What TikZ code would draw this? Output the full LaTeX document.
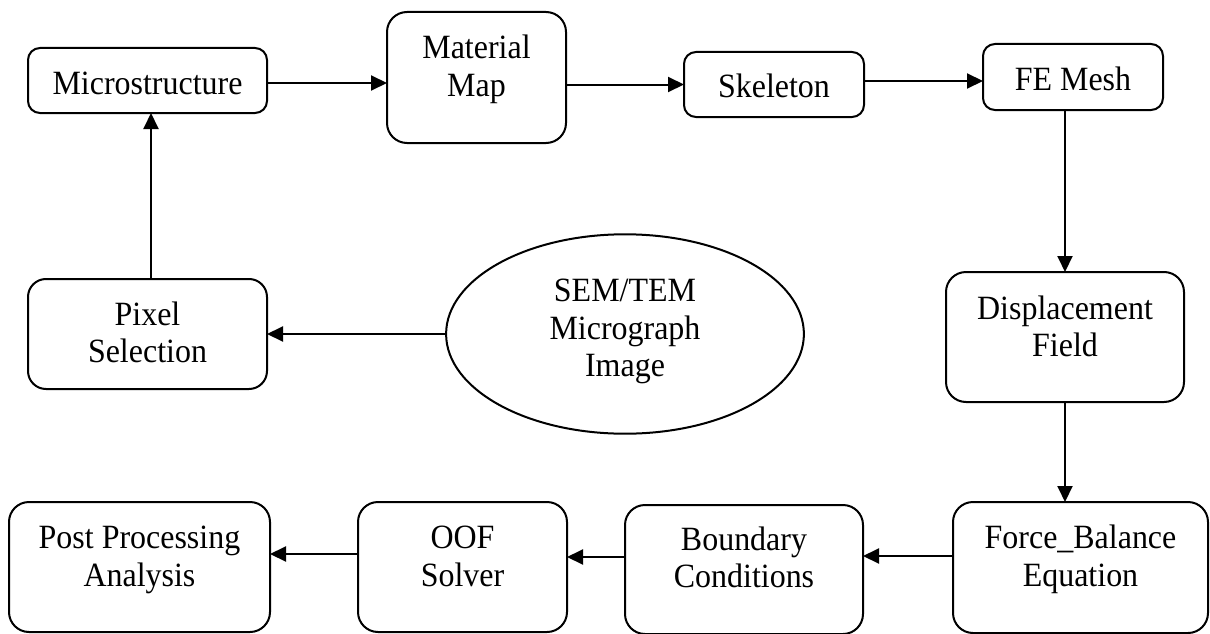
\documentclass[tikz,border=0pt]{standalone}
\usepackage{fontspec}
\setmainfont{Liberation Serif}[FakeStretch=0.94]
\usetikzlibrary{arrows.meta,shapes.geometric}
\newcommand{\mystrut}{\rule[-9pt]{0pt}{39pt}}
\newcommand{\boxtxt}[4]{\begin{minipage}[c][#2][t]{#1}\lineskiplimit=-100pt\centering\vspace*{#3}#4\end{minipage}}
\begin{document}
\begin{tikzpicture}[x=1pt,y=-1pt,line width=2pt,
  font=\fontsize{34}{37.5}\selectfont,
  blk/.style={draw, rounded corners=#1, inner sep=0pt, outer sep=0pt},
  blk/.default=20pt,
  oval/.style={draw, ellipse, inner sep=0pt, outer sep=0pt},
  arr/.style={-{Triangle[length=16pt,width=15pt]}, line width=2pt}]
\useasboundingbox (0,0) rectangle (1210,634);

\node[blk=12pt] (micro)  at (147.5,80.5) {\boxtxt{239pt}{65pt}{16pt}{\mystrut Microstructure}};
\node[blk]      (matmap) at (476.5,77.5) {\boxtxt{179pt}{131pt}{17pt}{\mystrut Material\\\mystrut Map}};
\node[blk=12pt] (skel)   at (774,84.5)   {\boxtxt{180pt}{65pt}{15pt}{\mystrut Skeleton}};
\node[blk=12pt] (femesh) at (1073,77)    {\boxtxt{180pt}{66pt}{16pt}{\mystrut FE Mesh}};
\node[blk=18pt] (pixel)  at (147.5,334)  {\boxtxt{239pt}{110pt}{16pt}{\mystrut Pixel\\\mystrut Selection}};
\node[oval]     (sem)    at (625,334)    {\boxtxt{253pt}{141pt}{8pt}{\mystrut SEM/TEM\\\mystrut Micrograph\\\mystrut Image}};
\node[blk]      (disp)   at (1065,337)   {\boxtxt{238pt}{130pt}{17pt}{\mystrut Displacement\\\mystrut Field}};
\node[blk]      (force)  at (1080.5,567.5) {\boxtxt{255pt}{131pt}{16.5pt}{\mystrut Force\_Balance\\\mystrut Equation}};
\node[blk]      (bound)  at (744,569.5)  {\boxtxt{238pt}{129pt}{15pt}{\mystrut Boundary\\\mystrut Conditions}};
\node[blk]      (oof)    at (462.5,567)  {\boxtxt{209pt}{130pt}{16.5pt}{\mystrut OOF\\\mystrut Solver}};
\node[blk]      (post)   at (139.5,567)  {\boxtxt{261pt}{130pt}{16.5pt}{\mystrut Post Processing\\\mystrut Analysis}};

\draw[arr] ([yshift=-2.5pt]micro.east) -- ([yshift=-2.5pt]micro.east -| matmap.west);
\draw[arr] (matmap.east |- skel.west) -- (skel.west);
\draw[arr] ([yshift=3.5pt]skel.east) -- ([yshift=3.5pt]skel.east -| femesh.west);
\draw[arr] (femesh.south -| disp.north) -- (disp.north);
\draw[arr] (disp.south) -- (disp.south |- force.north);
\draw[arr] ([yshift=11.5pt]force.west) -- ([yshift=11.5pt]force.west -| bound.east);
\draw[arr] ([yshift=12.5pt]bound.west) -- ([yshift=12.5pt]bound.west -| oof.east);
\draw[arr] ([yshift=13pt]oof.west) -- ([yshift=13pt]oof.west -| post.east);
\draw[arr] (sem.west) -- (pixel.east);
\draw[arr] ([xshift=3.5pt]pixel.north) -- ([xshift=3.5pt]pixel.north |- micro.south);
\end{tikzpicture}
\end{document}
